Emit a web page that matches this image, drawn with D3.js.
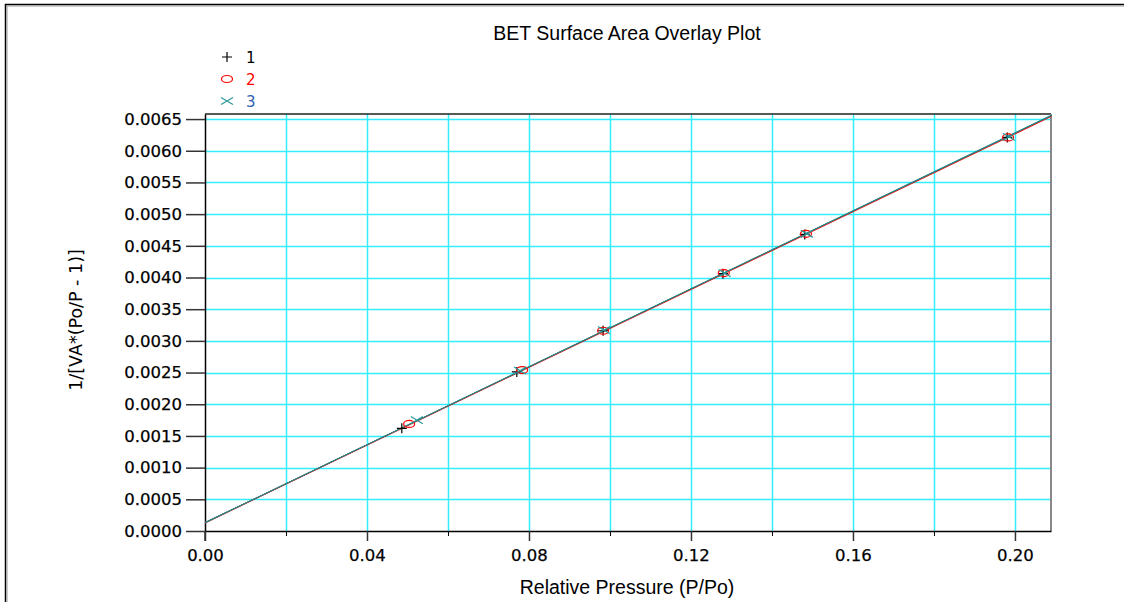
<!DOCTYPE html>
<html>
<head>
<meta charset="utf-8">
<script src="https://cdn.jsdelivr.net/npm/d3@7"></script>
<style>
  body { margin: 0; background: #fff; }
  svg { font-family: "Liberation Sans", Arial, sans-serif; }
</style>
</head>
<body>
<svg id="chart" width="1124" height="602"></svg>
<script>
// Data
const series1 = [[0.0486, 0.00162], [0.0770, 0.00251], [0.0983, 0.00316], [0.1279, 0.00406], [0.1481, 0.00468], [0.1981, 0.00621]];
const series2 = [[0.0504, 0.00169], [0.0783, 0.00254], [0.0983, 0.00316], [0.1281, 0.00407], [0.1484, 0.00469], [0.1983, 0.00621]];
const series3 = [[0.0523, 0.00175], [0.0778, 0.00253], [0.0985, 0.00317], [0.1283, 0.00407], [0.1486, 0.00469], [0.1985, 0.00622]];
const fit1 = [[0, 0.000131], [0.209, 0.006555]];
const fit2 = [[0, 0.000128], [0.209, 0.006545]];
const fit3 = [[0, 0.000132], [0.209, 0.006558]];
const xTicks = [0.00, 0.04, 0.08, 0.12, 0.16, 0.20];
const xMinorTicks = [0.02, 0.06, 0.10, 0.14, 0.18];
const yTicks = d3.range(0, 14).map(i => i * 0.0005);
const legendLabels = ["1", "2", "3"];

const dims = { left: 205, right: 1051, top: 114, bottom: 531 };
const tickFont = "'DejaVu Sans', Verdana, sans-serif";

const svg = d3.select("#chart");

// outer frame
svg.append("path").attr("d", "M5.5,602 V4.5 H1124").attr("fill", "none").attr("stroke", "#000").attr("stroke-width", 1.5);
svg.append("path").attr("d", "M7,602 V6 H1124").attr("fill", "none").attr("stroke", "#999").attr("stroke-width", 1);

const x = d3.scaleLinear().domain([0, 0.2089]).range([dims.left, dims.right]);
const y = d3.scaleLinear().domain([0, 0.00658]).range([dims.bottom, dims.top]);

// grid
const grid = svg.append("g");
grid.selectAll("line.vx")
  .data(xTicks.concat(xMinorTicks).filter(d => d > 0))
  .enter().append("line")
  .attr("x1", d => Math.round(x(d)) + 0.5).attr("x2", d => Math.round(x(d)) + 0.5)
  .attr("y1", dims.top).attr("y2", dims.bottom)
  .attr("stroke", "#33eeff").attr("stroke-width", 1.5);
grid.selectAll("line.hy")
  .data(yTicks.filter(d => d > 0))
  .enter().append("line")
  .attr("x1", dims.left).attr("x2", dims.right)
  .attr("y1", d => Math.round(y(d)) + 0.5).attr("y2", d => Math.round(y(d)) + 0.5)
  .attr("stroke", "#33eeff").attr("stroke-width", 1.5);

// plot frame top / right
svg.append("line").attr("x1", dims.left).attr("x2", dims.right).attr("y1", dims.top).attr("y2", dims.top)
  .attr("stroke", "#222").attr("stroke-width", 1.5);
svg.append("line").attr("x1", dims.right).attr("x2", dims.right).attr("y1", dims.top).attr("y2", dims.bottom)
  .attr("stroke", "#888").attr("stroke-width", 2);

// axes
const xAxis = svg.append("g")
  .attr("transform", `translate(0,${dims.bottom})`)
  .call(d3.axisBottom(x).tickValues(xTicks).tickFormat(d3.format(".2f")).tickSize(10).tickSizeOuter(0));
svg.append("g")
  .attr("transform", `translate(0,${dims.bottom})`)
  .call(d3.axisBottom(x).tickValues(xMinorTicks).tickFormat("").tickSize(5).tickSizeOuter(0))
  .select(".domain").remove();
const yAxis = svg.append("g")
  .attr("transform", `translate(${dims.left},0)`)
  .call(d3.axisLeft(y).tickValues(yTicks).tickFormat(d3.format(".4f")).tickSize(19).tickSizeOuter(0));

[xAxis, yAxis].forEach(a => {
  a.selectAll("text").attr("font-size", 16.5).attr("fill", "#000")
    .attr("font-family", tickFont).attr("stroke", "#000").attr("stroke-width", 0.25);
  a.selectAll("line").attr("stroke", "#333").attr("stroke-width", 1.5);
  a.select(".domain").attr("stroke", "#000").attr("stroke-width", 1.5);
});
xAxis.selectAll("text").attr("dy", "1.0em");
yAxis.selectAll("text").attr("dx", "-1");

// extend y axis line below for visual match
svg.append("line").attr("x1", dims.left).attr("x2", dims.left).attr("y1", dims.bottom).attr("y2", dims.bottom + 10)
  .attr("stroke", "#333").attr("stroke-width", 1.5);

// fit lines
const line = d3.line().x(d => x(d[0])).y(d => y(d[1]));
svg.append("path").datum(fit1).attr("d", line).attr("fill", "none").attr("stroke", "#000").attr("stroke-width", 1);
svg.append("path").datum(fit2).attr("d", line).attr("fill", "none").attr("stroke", "#ff0000").attr("stroke-width", 1.2);
svg.append("path").datum(fit3).attr("d", line).attr("fill", "none").attr("stroke", "#1a9090").attr("stroke-width", 1.2);

// markers
function plus(g, cx, cy, s, color) {
  g.append("path").attr("d", `M${cx - s},${cy} H${cx + s} M${cx},${cy - s} V${cy + s}`)
    .attr("stroke", color).attr("stroke-width", 1.2).attr("fill", "none");
}
function cross(g, cx, cy, s, color) {
  g.append("path").attr("d", `M${cx - s},${cy - s * 0.6} L${cx + s},${cy + s * 0.6} M${cx - s},${cy + s * 0.6} L${cx + s},${cy - s * 0.6}`)
    .attr("stroke", color).attr("stroke-width", 1.2).attr("fill", "none");
}
function ellipse(g, cx, cy, color) {
  g.append("ellipse").attr("cx", cx).attr("cy", cy).attr("rx", 5.5).attr("ry", 3.5)
    .attr("stroke", color).attr("stroke-width", 1.2).attr("fill", "none");
}

const marks = svg.append("g");
series1.forEach(d => plus(marks, x(d[0]), y(d[1]), 5, "#000"));
series2.forEach(d => ellipse(marks, x(d[0]), y(d[1]), "#ff0000"));
series3.forEach(d => cross(marks, x(d[0]), y(d[1]), 6, "#2a9a9a"));

// legend
const legend = svg.append("g");
const legendColors = ["#000", "#ff0000", "#3060b0"];
legendLabels.forEach((lab, i) => {
  const ly = 57 + i * 22;
  if (i === 0) plus(legend, 227, ly, 5, "#000");
  if (i === 1) ellipse(legend, 227, ly, "#ff0000");
  if (i === 2) cross(legend, 227, ly, 6, "#2a9a9a");
  legend.append("text").attr("x", 246).attr("y", ly + 6).attr("font-size", 15)
    .attr("font-family", tickFont).attr("fill", legendColors[i]).text(lab);
});

// titles
svg.append("text").attr("x", 627).attr("y", 40).attr("text-anchor", "middle")
  .attr("font-size", 19.5).text("BET Surface Area Overlay Plot");
svg.append("text").attr("x", 627).attr("y", 594).attr("text-anchor", "middle")
  .attr("font-size", 19.5).text("Relative Pressure (P/Po)");
svg.append("text").attr("transform", "translate(82,320) rotate(-90)").attr("text-anchor", "middle")
  .attr("font-size", 17.5).attr("font-family", tickFont)
  .text("1/[VA*(Po/P - 1)]");
</script>
</body>
</html>
